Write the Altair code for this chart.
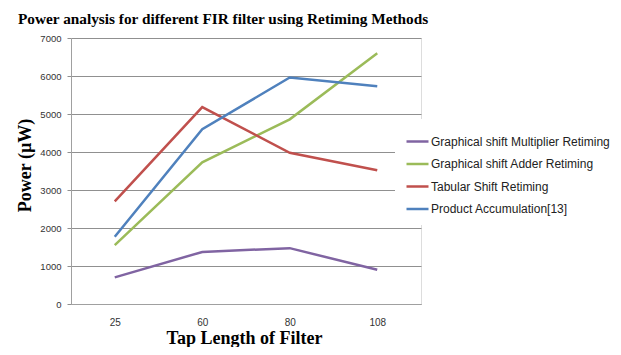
import altair as alt
import pandas as pd

taps = ["25", "60", "80", "108"]
series_names = [
    "Graphical shift Multiplier Retiming",
    "Graphical shift Adder Retiming",
    "Tabular Shift Retiming",
    "Product Accumulation[13]",
]
mult_retiming = [700, 1370, 1470, 900]
adder_retiming = [1550, 3730, 4860, 6600]
tabular_retiming = [2700, 5180, 3980, 3520]
product_accum = [1770, 4600, 5960, 5730]
colors = ["#8064A2", "#9BBB59", "#C0504D", "#4F81BD"]

rows = []
for name, vals in zip(series_names, [mult_retiming, adder_retiming, tabular_retiming, product_accum]):
    for t, v in zip(taps, vals):
        rows.append({"tap": t, "power": v, "series": name})
df = pd.DataFrame(rows)

chart = alt.Chart(df).mark_line(strokeWidth=2.5).encode(
    x=alt.X("tap:O", sort=taps, scale=alt.Scale(padding=0.5),
            axis=alt.Axis(title="Tap Length of Filter", labelAngle=0, ticks=False,
                          domainColor="#A0A0A0", labelFont="Liberation Sans", labelFontSize=10,
                          labelColor="#333333", labelPadding=13,
                          titleFont="Liberation Serif", titleFontSize=18, titleFontWeight="bold",
                          titleColor="#000000", titleX=173, titleY=34, titleBaseline="middle",
                          titleAlign="center")),
    y=alt.Y("power:Q", scale=alt.Scale(domain=[0, 7000], nice=False),
            axis=alt.Axis(title="Power (µW)", values=list(range(0, 7001, 1000)), format="d",
                          tickSize=4, tickColor="#909090", domainColor="#A0A0A0",
                          gridColor="#909090", labelFont="Liberation Sans", labelFontSize=9.5,
                          labelColor="#333333", labelPadding=6, titleFont="Liberation Serif",
                          titleFontSize=18, titleFontWeight="bold", titleColor="#000000",
                          titleX=-46, titleY=127, titleAngle=270, titleBaseline="middle",
                          titleAlign="center")),
    color=alt.Color("series:N", sort=series_names,
                    scale=alt.Scale(domain=series_names, range=colors),
                    legend=alt.Legend(title=None, orient="none", legendX=324, legendY=81,
                                      fillColor="white", padding=10, labelFont="Liberation Sans",
                                      labelFontSize=12, labelColor="#222222", symbolType="stroke",
                                      symbolStrokeWidth=2.5, symbolSize=484, rowPadding=3.5,
                                      labelOffset=1, labelLimit=0)),
).properties(
    width=350, height=266,
    title=alt.TitleParams("Power analysis for different FIR filter using Retiming Methods",
                          anchor="start", frame="group", dx=-53, font="Liberation Serif",
                          fontSize=15.3, fontWeight="bold", color="#000000", offset=-6,
                          baseline="alphabetic"),
    autosize=alt.AutoSizeParams(type="none"),
    padding={"left": 63, "top": 30, "right": 192, "bottom": 43},
).configure_view(stroke=None).configure(background="white")

chart.save("out.html", embed_options={"renderer": "svg", "actions": False})
